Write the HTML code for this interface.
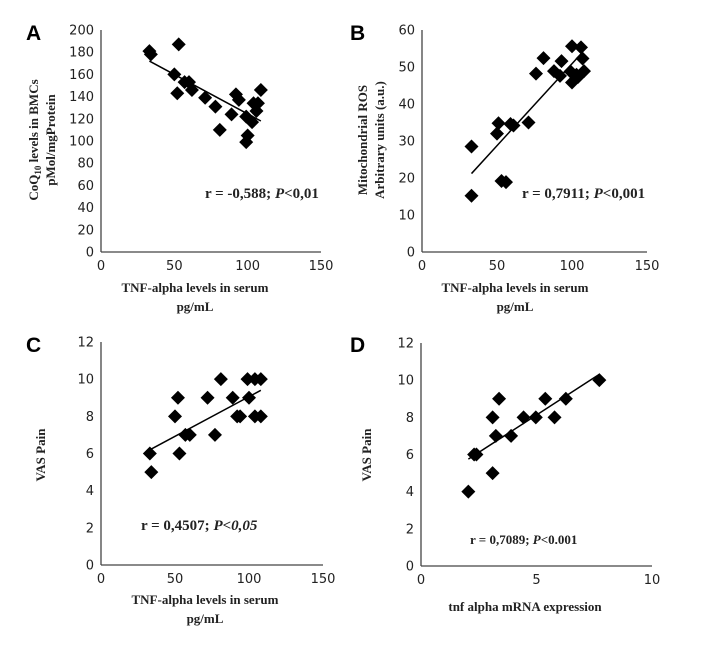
<!DOCTYPE html>
<html><head><meta charset="utf-8"><style>
body{margin:0;background:#fff}
svg text{font-family:"DejaVu Sans","Liberation Sans",sans-serif}
.t{font-size:13px;fill:#222}
.ti{font-family:"Liberation Serif",serif !important;font-weight:bold;font-size:13px;fill:#222}
.L{font-family:"Liberation Sans",sans-serif !important;font-weight:bold;font-size:21px}
</style></head><body>
<svg id="c" width="725" height="656" xmlns="http://www.w3.org/2000/svg"></svg>
<script>
const aX=[33,34,53,50,52,57,60,62,71,78,81,89,92,94,99,100,99,103,104,106,107,109];
const aY=[181,178,187,160,143,153,153,146,139,131,110,124,142,137,122,105,99,117,134,127,134,146];
const aLine=[[33,172],[109,118]];
const bX=[33,33,51,50,53,56,59,61,71,76,81,88,92,93,100,99,100,103,104,106,107,108];
const bY=[28.5,15.2,34.8,32,19.2,18.9,34.6,34.2,35,48.2,52.4,48.9,47.6,51.6,55.6,48.8,45.8,47.9,47.3,55.3,52.3,48.9];
const bLine=[[33,21.2],[107,54]];
const cX=[33,34,50,52,53,57,60,72,77,81,89,92,94,99,100,104,104,108,108];
const cY=[6,5,8,9,6,7,7,9,7,10,9,8,8,10,9,10,8,10,8];
const cLine=[[33,6.2],[108,9.4]];
const dX=[2.05,2.3,2.4,3.1,3.1,3.24,3.38,3.9,4.44,4.97,5.38,5.78,6.27,7.72];
const dY=[4,6,6,8,5,7,9,7,8,8,9,8,9,10];
const dLine=[[2.05,5.75],[7.7,10.3]];
const xTicksTNF=[0,50,100,150], xTicksD=[0,5,10];
const yTicksA=[0,20,40,60,80,100,120,140,160,180,200];
const yTicksB=[0,10,20,30,40,50,60];
const yTicksVAS=[0,2,4,6,8,10,12];
const svg=document.getElementById('c');
const NS='http://www.w3.org/2000/svg';
function el(tag,at,txt){const e=document.createElementNS(NS,tag);for(const k in at)e.setAttribute(k,at[k]);if(txt!==undefined)e.innerHTML=txt;svg.appendChild(e);return e;}
function panel(p){
 const sx=v=>p.x0+(v-p.xmin)/(p.xmax-p.xmin)*(p.x1-p.x0);
 const sy=v=>p.y0-(v-p.ymin)/(p.ymax-p.ymin)*(p.y0-p.y1);
 let e=el('line',{x1:p.x0,y1:p.y1,x2:p.x0,y2:p.y0,stroke:'#444','stroke-width':1.3});
 
 e=el('line',{x1:p.x0,y1:p.y0,x2:p.x1,y2:p.y0,stroke:'#444','stroke-width':1.3});
 
 p.yt.forEach(v=>{e=el('text',{x:p.x0-7,y:sy(v)+4.5,'text-anchor':'end',class:'t'},v);
  });
 p.xt.forEach(v=>{e=el('text',{x:sx(v),y:p.y0+18,'text-anchor':'middle',class:'t'},v);
  });
 e=el('line',{x1:sx(p.line[0][0]),y1:sy(p.line[0][1]),x2:sx(p.line[1][0]),y2:sy(p.line[1][1]),stroke:'#000','stroke-width':1.5});
 
 p.xs.forEach((v,i)=>{const cx=sx(v),cy=sy(p.ys[i]);
  e=el('path',{d:`M${cx},${cy-7}L${cx+7},${cy}L${cx},${cy+7}L${cx-7},${cy}Z`,fill:'#000'});
  });
 e=el('text',{x:p.lx,y:p.ly,class:'L'},p.id.toUpperCase());
 
 e=el('text',{x:p.rx,y:p.ry,class:'ti',style:'font-size:'+(p.rs||14)+'px'},p.r);
 
 p.xtitle.forEach((s,i)=>{e=el('text',{x:p.xtx,y:p.xty+i*19,'text-anchor':'middle',class:'ti'},s);
  });
 p.ytitle.forEach((s,i)=>{const X=p.ytx+i*17;e=el('text',{x:X,y:p.yty,'text-anchor':'middle',class:'ti',transform:`rotate(-90 ${X} ${p.yty})`},s);
  });
}
panel({id:'a',x0:101,x1:321,y0:252,y1:30,xmin:0,xmax:150,ymin:0,ymax:200,xs:aX,ys:aY,line:aLine,xt:xTicksTNF,yt:yTicksA,lx:26,ly:40,
 r:'r = -0,588; <tspan font-style="italic">P</tspan>&lt;0,01',rx:205,ry:198,rs:15,xtitle:['TNF-alpha  levels in serum','pg/mL'],xtx:195,xty:292,
 ytitle:['CoQ<tspan font-size="9" dy="3">10</tspan><tspan dy="-3"> levels in BMCs</tspan>','pMol/mgProtein'],ytx:38,yty:140});
panel({id:'b',x0:422,x1:647,y0:252,y1:30,xmin:0,xmax:150,ymin:0,ymax:60,xs:bX,ys:bY,line:bLine,xt:xTicksTNF,yt:yTicksB,lx:350,ly:40,
 r:'r = 0,7911; <tspan font-style="italic">P</tspan>&lt;0,001',rx:522,ry:198,rs:15,xtitle:['TNF-alpha  levels in serum','pg/mL'],xtx:515,xty:292,
 ytitle:['Mitochondrial  ROS','Arbitrary  units (a.u.)'],ytx:367,yty:140});
panel({id:'c',x0:101,x1:323,y0:565,y1:342,xmin:0,xmax:150,ymin:0,ymax:12,xs:cX,ys:cY,line:cLine,xt:xTicksTNF,yt:yTicksVAS,lx:26,ly:352,
 r:'r = 0,4507; <tspan font-style="italic">P&lt;0,05</tspan>',rx:141,ry:530,rs:15,xtitle:['TNF-alpha  levels in serum','pg/mL'],xtx:205,xty:604,
 ytitle:['VAS  Pain'],ytx:45,yty:455});
panel({id:'d',x0:421,x1:652,y0:566,y1:343,xmin:0,xmax:10,ymin:0,ymax:12,xs:dX,ys:dY,line:dLine,xt:xTicksD,yt:yTicksVAS,lx:350,ly:352,
 r:'r = 0,7089; <tspan font-style="italic">P</tspan>&lt;0.001',rx:470,ry:544,rs:13,xtitle:['tnf alpha  mRNA  expression'],xtx:525,xty:611,
 ytitle:['VAS  Pain'],ytx:371,yty:455});
</script>
</body></html>
